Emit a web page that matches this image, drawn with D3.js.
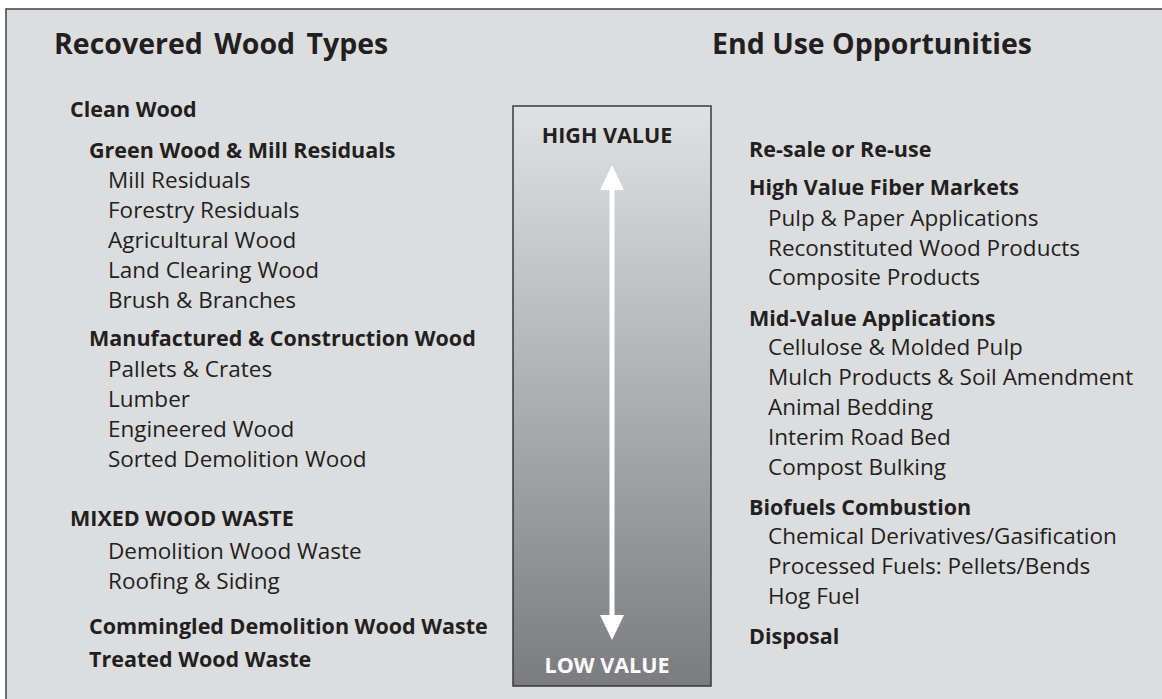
<!DOCTYPE html>
<html>
<head>
<meta charset="utf-8">
<script src="https://cdn.jsdelivr.net/npm/d3@7"></script>
<style>
  html, body { margin: 0; padding: 0; background: #ffffff; }
  svg { display: block; }
  text { font-family: "Open Sans", "Noto Sans", sans-serif; fill: #231f20; }
</style>
</head>
<body>
<svg id="chart" width="1162" height="699"></svg>
<script>
// ---------- data ----------
const titles = ["Recovered Wood Types", "End Use Opportunities"];
const scaleLabels = ["HIGH VALUE", "LOW VALUE"];

// level: 1 = main group (bold), 2 = sub group (bold, indented), 3 = item (regular)
const woodTypes = [
  { text: "Clean Wood", level: 1 },
  { text: "Green Wood & Mill Residuals", level: 2 },
  { text: "Mill Residuals", level: 3 },
  { text: "Forestry Residuals", level: 3 },
  { text: "Agricultural Wood", level: 3 },
  { text: "Land Clearing Wood", level: 3 },
  { text: "Brush & Branches", level: 3 },
  { text: "Manufactured & Construction Wood", level: 2 },
  { text: "Pallets & Crates", level: 3 },
  { text: "Lumber", level: 3 },
  { text: "Engineered Wood", level: 3 },
  { text: "Sorted Demolition Wood", level: 3 },
  { text: "MIXED WOOD WASTE", level: 1 },
  { text: "Demolition Wood Waste", level: 3 },
  { text: "Roofing & Siding", level: 3 },
  { text: "Commingled Demolition Wood Waste", level: 2 },
  { text: "Treated Wood Waste", level: 2 }
];

const endUses = [
  { text: "Re-sale or Re-use", level: 1 },
  { text: "High Value Fiber Markets", level: 1 },
  { text: "Pulp & Paper Applications", level: 3 },
  { text: "Reconstituted Wood Products", level: 3 },
  { text: "Composite Products", level: 3 },
  { text: "Mid-Value Applications", level: 1 },
  { text: "Cellulose & Molded Pulp", level: 3 },
  { text: "Mulch Products & Soil Amendment", level: 3 },
  { text: "Animal Bedding", level: 3 },
  { text: "Interim Road Bed", level: 3 },
  { text: "Compost Bulking", level: 3 },
  { text: "Biofuels Combustion", level: 1 },
  { text: "Chemical Derivatives/Gasification", level: 3 },
  { text: "Processed Fuels: Pellets/Bends", level: 3 },
  { text: "Hog Fuel", level: 3 },
  { text: "Disposal", level: 1 }
];

// ---------- layout (baselines in px) ----------
const woodBaselines = [117, 158, 188, 218, 248, 278, 308, 346, 377, 407, 437, 467, 526, 559, 589, 634, 667];
const useBaselines  = [157, 195, 226, 256, 285, 326, 355, 385, 415, 445, 475, 515, 544, 574, 604, 644];

const W = 1162, H = 699;
const svg = d3.select("#chart");

// outer panel
svg.append("rect")
  .attr("x", 6).attr("y", 9)
  .attr("width", W + 20).attr("height", H + 20)
  .attr("fill", "#dcdddf")
  .attr("stroke", "#4d4d4f").attr("stroke-width", 1.6);

// gradient value bar
const defs = svg.append("defs");
const grad = defs.append("linearGradient")
  .attr("id", "valueGrad").attr("x1", 0).attr("y1", 0).attr("x2", 0).attr("y2", 1);
grad.append("stop").attr("offset", "0%").attr("stop-color", "#e0e1e3");
grad.append("stop").attr("offset", "100%").attr("stop-color", "#7b7c7f");

const box = { x0: 513, x1: 711, y0: 106, y1: 686 };
svg.append("rect")
  .attr("x", box.x0).attr("y", box.y0)
  .attr("width", box.x1 - box.x0).attr("height", box.y1 - box.y0)
  .attr("fill", "url(#valueGrad)")
  .attr("stroke", "#3a3a3c").attr("stroke-width", 1.5);

// value scale: high -> top, low -> bottom
const valueY = d3.scaleLinear().domain([1, 0]).range([165, 640]);
const ax = 612, headH = 25, headW = 24, shaftW = 5;
const arrowPath = d3.path();
arrowPath.moveTo(ax, valueY(1));
arrowPath.lineTo(ax + headW / 2, valueY(1) + headH);
arrowPath.lineTo(ax + shaftW / 2, valueY(1) + headH);
arrowPath.lineTo(ax + shaftW / 2, valueY(0) - headH);
arrowPath.lineTo(ax + headW / 2, valueY(0) - headH);
arrowPath.lineTo(ax, valueY(0));
arrowPath.lineTo(ax - headW / 2, valueY(0) - headH);
arrowPath.lineTo(ax - shaftW / 2, valueY(0) - headH);
arrowPath.lineTo(ax - shaftW / 2, valueY(1) + headH);
arrowPath.lineTo(ax - headW / 2, valueY(1) + headH);
arrowPath.closePath();
svg.append("path").attr("d", arrowPath.toString()).attr("fill", "#ffffff");

svg.append("text")
  .attr("x", 607).attr("y", 143)
  .attr("text-anchor", "middle")
  .attr("font-size", 21.5).attr("font-weight", 700)
  .text(scaleLabels[0]);
svg.append("text")
  .attr("x", 607).attr("y", 673)
  .attr("text-anchor", "middle")
  .attr("font-size", 21.5).attr("font-weight", 700)
  .style("fill", "#ffffff")
  .text(scaleLabels[1]);

// titles
svg.append("text").attr("x", 54).attr("y", 54)
  .attr("font-size", 28.5).attr("font-weight", 700)
  .attr("word-spacing", 4).text(titles[0]);
svg.append("text").attr("x", 712).attr("y", 54)
  .attr("font-size", 28.5).attr("font-weight", 700).text(titles[1]);

// left column
const leftIndent = { 1: 70, 2: 89, 3: 108 };
svg.append("g").selectAll("text")
  .data(woodTypes)
  .join("text")
  .attr("x", d => leftIndent[d.level])
  .attr("y", (d, i) => woodBaselines[i])
  .attr("font-size", d => d.level < 3 ? 21.5 : 22.5)
  .attr("font-weight", d => d.level < 3 ? 700 : 400)
  .text(d => d.text);

// right column
const rightIndent = { 1: 749, 3: 768 };
svg.append("g").selectAll("text")
  .data(endUses)
  .join("text")
  .attr("x", d => rightIndent[d.level])
  .attr("y", (d, i) => useBaselines[i])
  .attr("font-size", d => d.level < 3 ? 21.5 : 22.5)
  .attr("font-weight", d => d.level < 3 ? 700 : 400)
  .text(d => d.text);
</script>
</body>
</html>
